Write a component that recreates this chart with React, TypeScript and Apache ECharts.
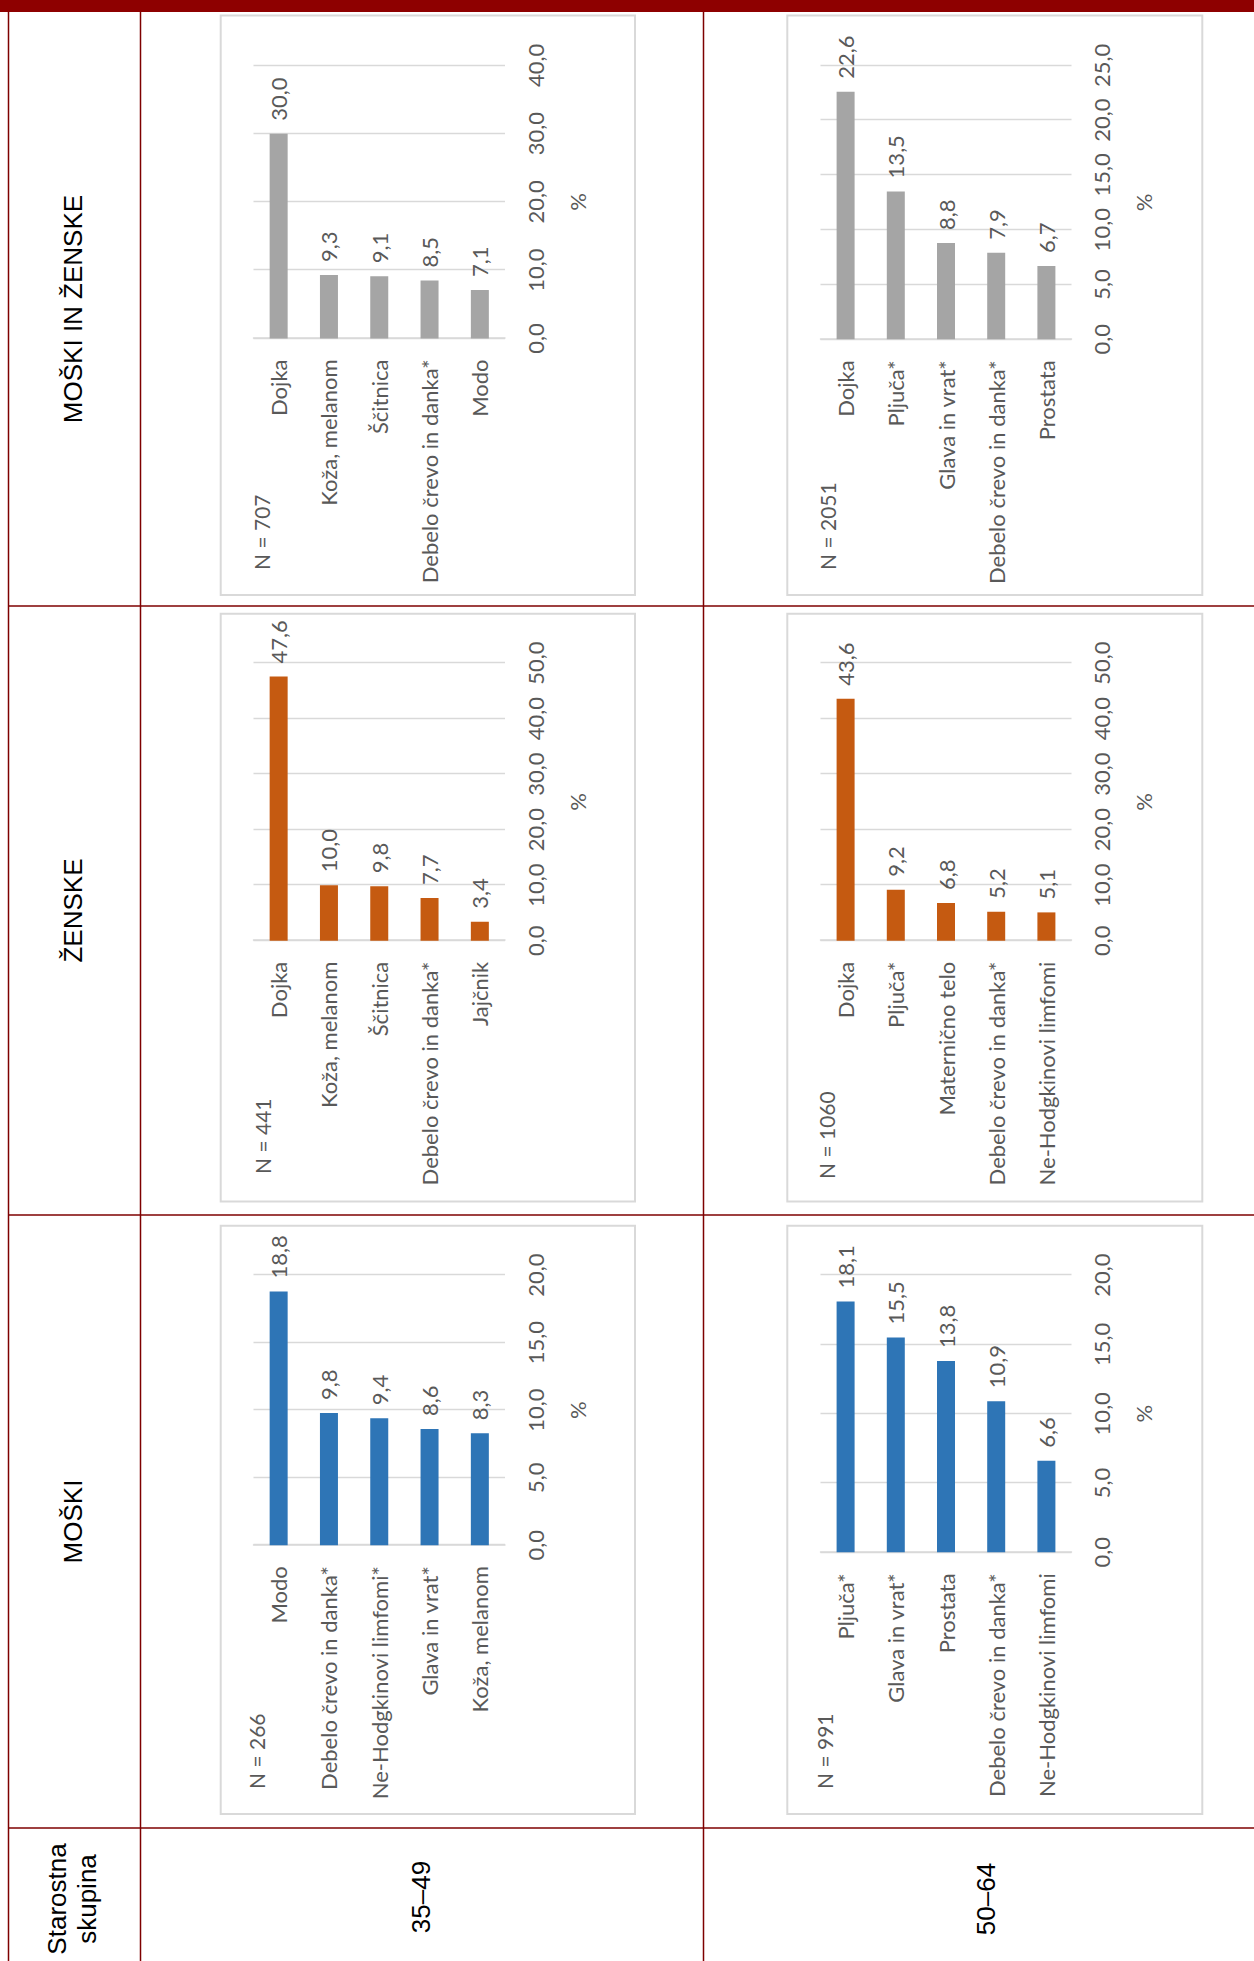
import React, { useEffect, useRef } from "react";
import * as echarts from "echarts";

// ---------- data ----------
const groupHeaders = ["MOŠKI", "ŽENSKE", "MOŠKI IN ŽENSKE"];
const ageGroups = ["35–49", "50–64"];
const ageHeader = "Starostna\nskupina";

const men3549Cats = ["Modo", "Debelo črevo in danka*", "Ne-Hodgkinovi limfomi*", "Glava in vrat*", "Koža, melanom"];
const men3549Vals = [18.8, 9.8, 9.4, 8.6, 8.3];
const men3549N = "N = 266";

const women3549Cats = ["Dojka", "Koža, melanom", "Ščitnica", "Debelo črevo in danka*", "Jajčnik"];
const women3549Vals = [47.6, 10.0, 9.8, 7.7, 3.4];
const women3549N = "N = 441";

const all3549Cats = ["Dojka", "Koža, melanom", "Ščitnica", "Debelo črevo in danka*", "Modo"];
const all3549Vals = [30.0, 9.3, 9.1, 8.5, 7.1];
const all3549N = "N = 707";

const men5064Cats = ["Pljuča*", "Glava in vrat*", "Prostata", "Debelo črevo in danka*", "Ne-Hodgkinovi limfomi"];
const men5064Vals = [18.1, 15.5, 13.8, 10.9, 6.6];
const men5064N = "N = 991";

const women5064Cats = ["Dojka", "Pljuča*", "Maternično telo", "Debelo črevo in danka*", "Ne-Hodgkinovi limfomi"];
const women5064Vals = [43.6, 9.2, 6.8, 5.2, 5.1];
const women5064N = "N = 1060";

const all5064Cats = ["Dojka", "Pljuča*", "Glava in vrat*", "Debelo črevo in danka*", "Prostata"];
const all5064Vals = [22.6, 13.5, 8.8, 7.9, 6.7];
const all5064N = "N = 2051";

// value-axis ranges (max, step) per chart
const axisMax = [20, 50, 40, 20, 50, 25];
const axisStep = [5, 10, 10, 5, 10, 5];
const axisName = "%";

// ---------- styles / layout (unrotated frame) ----------
const PAGE_W = 1254;
const PAGE_H = 1961;
const FRAME_W = 1961;
const FRAME_H = 1254;

const COLORS = { men: "#2e75b6", women: "#c55a11", all: "#a5a5a5" };
const TXT = "#595959";
const GRIDC = "#d9d9d9";
const RED = "#7e0000";
const FONT = "Lato, 'Liberation Sans', sans-serif";
const FS = 22;

const charts = [
  { cats: men3549Cats, vals: men3549Vals, n: men3549N, color: COLORS.men },
  { cats: women3549Cats, vals: women3549Vals, n: women3549N, color: COLORS.women },
  { cats: all3549Cats, vals: all3549Vals, n: all3549N, color: COLORS.all },
  { cats: men5064Cats, vals: men5064Vals, n: men5064N, color: COLORS.men },
  { cats: women5064Cats, vals: women5064Vals, n: women5064N, color: COLORS.women },
  { cats: all5064Cats, vals: all5064Vals, n: all5064N, color: COLORS.all },
];

const layouts = [
  { box: [147, 220.7, 588.2, 414.3], grid: [415.8, 253.5, 270, 251.5], nPos: [172, 256] },
  { box: [759.4, 220.7, 587.8, 414.3], grid: [1020.3, 253.5, 277.5, 251.5], nPos: [787, 262] },
  { box: [1366, 220.7, 579.4, 414.3], grid: [1622.5, 253.5, 273.1, 251.5], nPos: [1391, 261.5] },
  { box: [147, 787.3, 588.2, 415], grid: [408.7, 820.5, 277.1, 251], nPos: [172, 824.5] },
  { box: [759.4, 787.3, 587.8, 415], grid: [1020.3, 820.5, 277.5, 251], nPos: [782, 826.5] },
  { box: [1366, 787.3, 579.4, 415], grid: [1621.7, 820.5, 273.9, 251], nPos: [1391, 827.5] },
];

const fmt = (v: number) => v.toFixed(1).replace(".", ",");

export default function App() {
  const ref = useRef<HTMLDivElement>(null);

  useEffect(() => {
    if (!ref.current) return;
    const chart = echarts.init(ref.current, undefined, {
      renderer: "svg",
      width: FRAME_W,
      height: FRAME_H,
    });

    const grid: any[] = [];
    const xAxis: any[] = [];
    const yAxis: any[] = [];
    const series: any[] = [];
    const graphic: any[] = [];

    charts.forEach((c, i) => {
      const L = layouts[i];
      grid.push({ left: L.grid[0], top: L.grid[1], width: L.grid[2], height: L.grid[3] });
      xAxis.push({
        type: "value",
        gridIndex: i,
        min: 0,
        max: axisMax[i],
        interval: axisStep[i],
        axisLine: { show: false },
        axisTick: { show: false },
        splitLine: { show: true, lineStyle: { color: GRIDC, width: 1.3 } },
        axisLabel: {
          color: TXT,
          fontSize: FS,
          fontFamily: FONT,
          margin: 19,
          formatter: (v: number) => fmt(v),
        },
        name: axisName,
        nameLocation: "middle",
        nameGap: 61,
        nameTextStyle: { color: TXT, fontSize: FS, fontFamily: FONT },
      });
      yAxis.push({
        type: "category",
        gridIndex: i,
        data: c.cats,
        inverse: true,
        axisLine: { show: true, lineStyle: { color: GRIDC, width: 1.5 } },
        axisTick: { show: false },
        splitLine: { show: false },
        axisLabel: { color: TXT, fontSize: FS, fontFamily: FONT, margin: 21, interval: 0 },
      });
      series.push({
        type: "bar",
        xAxisIndex: i,
        yAxisIndex: i,
        data: c.vals,
        barWidth: 18,
        itemStyle: { color: c.color },
        label: {
          show: true,
          position: "right",
          distance: 13,
          color: TXT,
          fontSize: FS,
          fontFamily: FONT,
          formatter: (p: any) => fmt(p.value),
        },
      });
      graphic.push({
        type: "rect",
        shape: { x: L.box[0], y: L.box[1], width: L.box[2], height: L.box[3] },
        style: { fill: "none", stroke: GRIDC, lineWidth: 2 },
        z: 0,
      });
      graphic.push({
        type: "text",
        x: L.nPos[0],
        y: L.nPos[1],
        style: {
          text: c.n,
          fill: TXT,
          fontSize: FS - 1,
          fontFamily: FONT,
          align: "left",
          verticalAlign: "middle",
        },
      });
    });

    // table frame
    const hLines = [8.5, 140.5, 703.5];
    hLines.forEach((v) =>
      graphic.push({
        type: "line",
        shape: { x1: 0, y1: v, x2: 1949, y2: v },
        style: { stroke: RED, lineWidth: 1.5 },
      })
    );
    const vLines = [133, 746, 1355];
    vLines.forEach((u) =>
      graphic.push({
        type: "line",
        shape: { x1: u, y1: 8, x2: u, y2: FRAME_H },
        style: { stroke: RED, lineWidth: 1.5 },
      })
    );
    graphic.push({
      type: "rect",
      shape: { x: 1949, y: 0, width: 12, height: FRAME_H },
      style: { fill: "#8e0000" },
    });

    const headFont = "'Liberation Sans', Arial, sans-serif";
    const headerCenters = [439.5, 1050.5, 1652];
    groupHeaders.forEach((t, i) =>
      graphic.push({
        type: "text",
        x: headerCenters[i],
        y: 73,
        style: { text: t, fill: "#000", fontSize: 26, fontFamily: headFont, align: "center", verticalAlign: "middle" },
      })
    );
    graphic.push({
      type: "text",
      x: 62,
      y: 72,
      style: {
        text: ageHeader,
        fill: "#000",
        fontSize: 26,
        lineHeight: 30,
        fontFamily: headFont,
        align: "center",
        verticalAlign: "middle",
      },
    });
    const agePos = [
      [64, 421],
      [62, 986],
    ];
    ageGroups.forEach((t, i) =>
      graphic.push({
        type: "text",
        x: agePos[i][0],
        y: agePos[i][1],
        style: { text: t, fill: "#000", fontSize: 26, fontFamily: headFont, align: "center", verticalAlign: "middle" },
      })
    );

    chart.setOption({
      animation: false,
      backgroundColor: "#ffffff",
      grid,
      xAxis,
      yAxis,
      series,
      graphic,
    });

    return () => chart.dispose();
  }, []);

  return (
    <div
      style={{
        position: "absolute",
        left: 0,
        top: 0,
        width: PAGE_W,
        height: PAGE_H,
        overflow: "hidden",
        background: "#fff",
      }}
    >
      <div
        ref={ref}
        style={{
          position: "absolute",
          left: 0,
          top: 0,
          width: FRAME_W,
          height: FRAME_H,
          transformOrigin: "0 0",
          transform: `translateY(${PAGE_H}px) rotate(-90deg)`,
        }}
      />
    </div>
  );
}
